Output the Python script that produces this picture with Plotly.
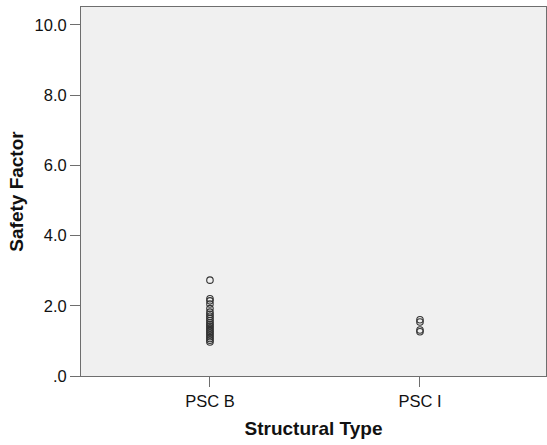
import plotly.graph_objects as go

categories = ["PSC B", "PSC I"]
psc_b_values = [2.73, 2.20, 2.14, 2.05, 1.92, 1.82, 1.76, 1.70, 1.64, 1.58, 1.52, 1.47, 1.42, 1.37, 1.32, 1.27, 1.22, 1.17, 1.12, 1.07, 1.02, 0.97]
psc_i_values = [1.60, 1.54, 1.31, 1.26]
y_tick_vals = [0, 2, 4, 6, 8, 10]
y_tick_text = [".0", "2.0", "4.0", "6.0", "8.0", "10.0"]

fig = go.Figure()
marker = dict(symbol="circle-open", size=6.5, color="#333333", line=dict(width=1.1))
fig.add_trace(go.Scatter(x=[0] * len(psc_b_values), y=psc_b_values, mode="markers", marker=marker, showlegend=False))
fig.add_trace(go.Scatter(x=[1] * len(psc_i_values), y=psc_i_values, mode="markers", marker=marker, showlegend=False))

font = "Liberation Sans, Arial, sans-serif"
fig.update_layout(
    width=547, height=445,
    margin=dict(l=81, r=1, t=7, b=69),
    paper_bgcolor="white",
    plot_bgcolor="#f0f0f0",
    font=dict(family=font, size=16.5, color="#111111"),
    xaxis=dict(
        range=[-0.614, 1.6],
        tickvals=[0, 1], ticktext=categories,
        showgrid=False, zeroline=False, automargin=False,
        showline=True, linecolor="#6e6e6e", linewidth=1, mirror=True,
        ticks="outside", ticklen=10, tickcolor="#6e6e6e",
        title=dict(text="<b>Structural Type</b>", font=dict(size=19), standoff=12),
    ),
    yaxis=dict(
        range=[0, 10.51],
        tickvals=y_tick_vals, ticktext=y_tick_text,
        showgrid=False, zeroline=False, automargin=False,
        showline=True, linecolor="#6e6e6e", linewidth=1, mirror=True,
        ticks="outside", ticklen=10, tickcolor="#6e6e6e",
        title=dict(text="<b>Safety Factor</b>", font=dict(size=19), standoff=5),
    ),
)

fig.write_html(
    "out.html",
    config={"displayModeBar": False},
    post_script="document.body.style.margin='0';document.body.style.padding='0';",
)
